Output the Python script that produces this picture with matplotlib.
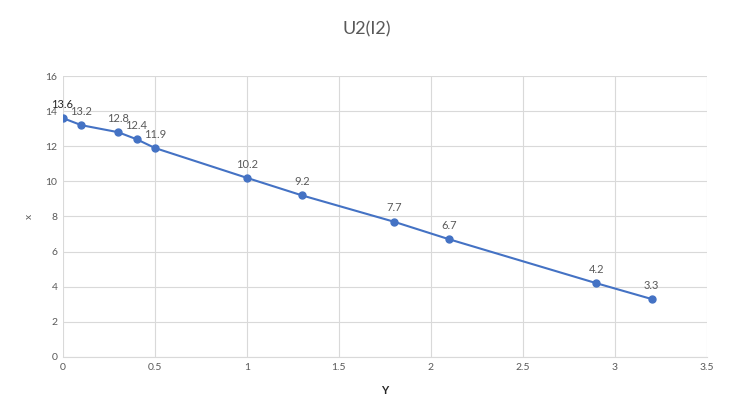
import matplotlib
matplotlib.use("Agg")
import matplotlib.pyplot as plt

# Data
current = [0, 0.1, 0.3, 0.4, 0.5, 1.0, 1.3, 1.8, 2.1, 2.9, 3.2]
voltage = [13.6, 13.2, 12.8, 12.4, 11.9, 10.2, 9.2, 7.7, 6.7, 4.2, 3.3]
x_ticks = [0, 0.5, 1, 1.5, 2, 2.5, 3, 3.5]
y_ticks = [0, 2, 4, 6, 8, 10, 12, 14, 16]

BLUE = "#4472C4"
GRID = "#d9d9d9"
TEXT = "#595959"

plt.rcParams["font.family"] = ["Lato", "DejaVu Sans"]


def main():

    fig = plt.figure(figsize=(7.34, 4.19), dpi=100)
    ax = fig.add_axes([0.0858, 0.148, 0.963 - 0.0858, 0.8186 - 0.148])

    ax.plot(current, voltage, color=BLUE, linewidth=1.5,
            marker="o", markersize=5, zorder=3)

    # Data labels
    for i, (cx, vy) in enumerate(zip(current, voltage)):
        if i == 0:
            ax.annotate(f"{vy:g}", (cx, vy), xytext=(-1, 6),
                        textcoords="offset points", ha="center",
                        va="bottom", fontsize=8, color="#262626")
        else:
            ax.annotate(f"{vy:g}", (cx, vy), xytext=(0, 6),
                        textcoords="offset points", ha="center",
                        va="bottom", fontsize=8, color=TEXT)

    ax.set_xlim(0, 3.5)
    ax.set_ylim(0, 16)
    ax.set_xticks(x_ticks)
    ax.set_xticklabels([f"{t:g}" for t in x_ticks])
    ax.set_yticks(y_ticks)

    ax.grid(True, color=GRID, linewidth=0.8)
    ax.set_axisbelow(True)
    ax.tick_params(length=0, labelsize=7.5, labelcolor=TEXT, pad=4)

    for side in ["top", "right", "left"]:
        ax.spines[side].set_visible(False)
    ax.spines["bottom"].set_color(GRID)

    ax.set_xlabel("Y", fontsize=8, fontweight="bold", color="#262626",
                  labelpad=10)
    ax.set_ylabel("x", fontsize=7.5, color=TEXT, labelpad=8)

    fig.text(0.5, 1 - 29 / 419, "U2(I2)", ha="center", va="center",
             fontsize=13, color=TEXT)

    fig.savefig("out.png", dpi=100)


if __name__ == "__main__":
    main()
